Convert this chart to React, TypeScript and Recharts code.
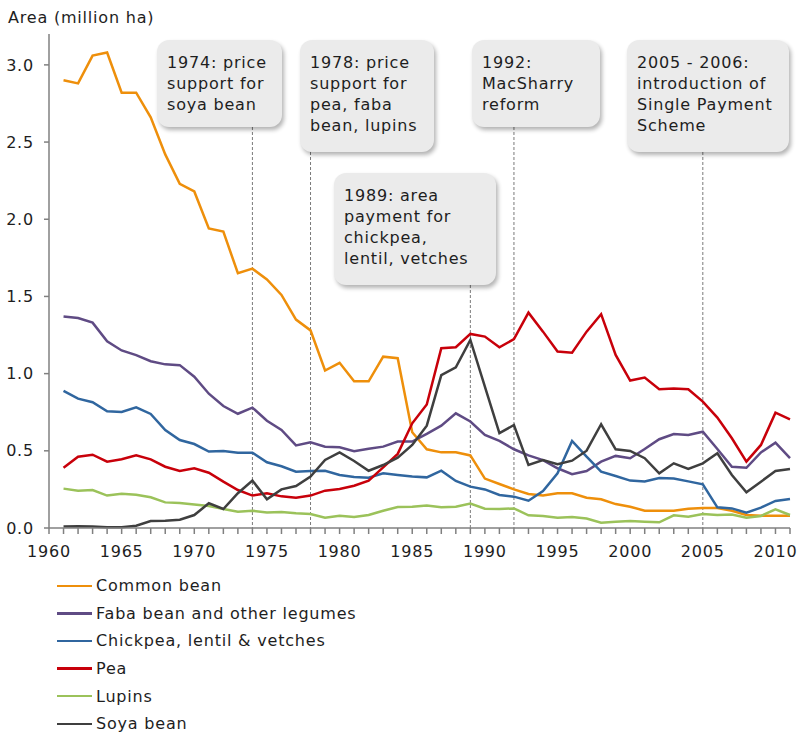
import { LineChart, Line, XAxis, YAxis, ReferenceLine, Legend } from "recharts";

const years = [
  1961, 1962, 1963, 1964, 1965, 1966, 1967, 1968, 1969, 1970,
  1971, 1972, 1973, 1974, 1975, 1976, 1977, 1978, 1979, 1980,
  1981, 1982, 1983, 1984, 1985, 1986, 1987, 1988, 1989, 1990,
  1991, 1992, 1993, 1994, 1995, 1996, 1997, 1998, 1999, 2000,
  2001, 2002, 2003, 2004, 2005, 2006, 2007, 2008, 2009, 2010,
  2011,
];

const commonBean = [
  2.9, 2.88, 3.06, 3.08, 2.82, 2.82, 2.66, 2.42, 2.23, 2.18,
  1.94, 1.92, 1.65, 1.68, 1.61, 1.51, 1.35, 1.28, 1.02, 1.07,
  0.95, 0.95, 1.11, 1.1, 0.62, 0.51, 0.49, 0.49, 0.47, 0.32,
  0.285, 0.25, 0.22, 0.21, 0.225, 0.225, 0.196, 0.186, 0.155, 0.138,
  0.112, 0.112, 0.112, 0.125, 0.13, 0.13, 0.112, 0.084, 0.08, 0.08,
  0.08,
];
const fabaBean = [
  1.37, 1.36, 1.33, 1.21, 1.15, 1.12, 1.08, 1.06, 1.055, 0.98,
  0.87, 0.79, 0.74, 0.78, 0.695, 0.635, 0.535, 0.555, 0.527, 0.523,
  0.497, 0.514, 0.527, 0.56, 0.56, 0.61, 0.663, 0.743, 0.69, 0.603,
  0.564, 0.51, 0.47, 0.44, 0.387, 0.348, 0.369, 0.43, 0.467, 0.452,
  0.512, 0.575, 0.609, 0.603, 0.624, 0.512, 0.397, 0.39, 0.49, 0.553,
  0.452,
];
const chickpea = [
  0.888, 0.838, 0.815, 0.756, 0.752, 0.782, 0.739, 0.635, 0.57, 0.544,
  0.495, 0.499, 0.488, 0.488, 0.426, 0.4, 0.365, 0.369, 0.371, 0.343,
  0.33, 0.326, 0.354, 0.343, 0.333, 0.328, 0.371, 0.305, 0.268, 0.25,
  0.214, 0.203, 0.177, 0.24, 0.354, 0.564, 0.462, 0.365, 0.337, 0.307,
  0.302, 0.324, 0.32, 0.302, 0.283, 0.134, 0.127, 0.099, 0.132, 0.175,
  0.188,
];
const pea = [
  0.39, 0.462, 0.475, 0.43, 0.445, 0.471, 0.445, 0.397, 0.369, 0.387,
  0.358, 0.3, 0.246, 0.21, 0.225, 0.205, 0.196, 0.21, 0.242, 0.253,
  0.274, 0.307, 0.393, 0.48, 0.678, 0.8, 1.165, 1.171, 1.257, 1.24,
  1.171, 1.223, 1.395, 1.272, 1.143, 1.136, 1.272, 1.385, 1.121, 0.955,
  0.974, 0.899, 0.903, 0.899, 0.819, 0.715, 0.581, 0.43, 0.538, 0.747,
  0.704,
];
const lupins = [
  0.255, 0.242, 0.246, 0.21, 0.222, 0.216, 0.199, 0.166, 0.162, 0.153,
  0.143, 0.123, 0.106, 0.112, 0.101, 0.104, 0.095, 0.091, 0.067, 0.08,
  0.071, 0.084, 0.112, 0.136, 0.138, 0.145, 0.134, 0.138, 0.158, 0.125,
  0.123, 0.127, 0.082, 0.078, 0.067, 0.071, 0.062, 0.034, 0.041, 0.045,
  0.041, 0.037, 0.082, 0.073, 0.091, 0.084, 0.087, 0.067, 0.078, 0.121,
  0.084,
];
const soyaBean = [
  0.01, 0.012, 0.01, 0.005, 0.005, 0.015, 0.045, 0.047, 0.054, 0.084,
  0.16, 0.123, 0.225, 0.307, 0.186, 0.25, 0.272, 0.333, 0.441, 0.49,
  0.434, 0.371, 0.408, 0.456, 0.538, 0.663, 0.99, 1.04, 1.218, 0.916,
  0.614, 0.667, 0.408, 0.44, 0.413, 0.436, 0.501, 0.672, 0.51, 0.499,
  0.452, 0.354, 0.419, 0.382, 0.419, 0.484, 0.343, 0.231, 0.3, 0.369,
  0.382,
];

const yTicks = [0, 0.5, 1, 1.5, 2, 2.5, 3];
const xLabelYears = [1960, 1965, 1970, 1975, 1980, 1985, 1990, 1995, 2000, 2005, 2010];

const annotations = [
  { year: 1974, lines: ["1974: price", "support for", "soya bean"] },
  { year: 1978, lines: ["1978: price", "support for", "pea, faba", "bean, lupins"] },
  { year: 1989, lines: ["1989: area", "payment for", "chickpea,", "lentil, vetches"] },
  { year: 1992, lines: ["1992:", "MacSharry", "reform"] },
  { year: 2005, lines: ["2005 - 2006:", "introduction of", "Single Payment", "Scheme"] },
];

const SERIES = [
  { key: "commonBean", name: "Common bean", color: "#ee8f0b" },
  { key: "fabaBean", name: "Faba bean and other legumes", color: "#5f4b84" },
  { key: "chickpea", name: "Chickpea, lentil & vetches", color: "#30669f" },
  { key: "pea", name: "Pea", color: "#c8000a" },
  { key: "lupins", name: "Lupins", color: "#9bc25a" },
  { key: "soyaBean", name: "Soya bean", color: "#3f3f3f" },
];

const data = years.map((year, i) => ({
  year,
  commonBean: commonBean[i],
  fabaBean: fabaBean[i],
  chickpea: chickpea[i],
  pea: pea[i],
  lupins: lupins[i],
  soyaBean: soyaBean[i],
}));

// layout
const W = 798;
const H = 734;
const TOP = 34;
const PLOT_BOTTOM = 528;
const Y_MAX = 3.2;
const FONT = "'DejaVu Sans', Verdana, sans-serif";
const TEXT = "#1e1e1e";
const AXIS = "#808080";
const minorTicks = Array.from({ length: 52 }, (_, i) => 1960 + i);

// annotation boxes (pixels)
const boxes = [
  { left: 157, top: 40, width: 125, height: 87 },
  { left: 300, top: 40, width: 134, height: 112 },
  { left: 334, top: 173, width: 162, height: 112 },
  { left: 472, top: 40, width: 128, height: 87 },
  { left: 627, top: 40, width: 162, height: 112 },
];

const pxToValue = (py: number) => ((PLOT_BOTTOM - py) / (PLOT_BOTTOM - TOP)) * Y_MAX;

const textStyle = { fontFamily: FONT, fontSize: 16, letterSpacing: 0.8, fill: TEXT };

function LegendBox() {
  return (
    <div style={{ height: 176, paddingLeft: 57, fontFamily: FONT, fontSize: 16, letterSpacing: 0.8, color: TEXT }}>
      {SERIES.map((s) => (
        <div key={s.key} style={{ display: "flex", alignItems: "center", height: 27.6 }}>
          <span style={{ width: 35, height: 2.5, background: s.color, display: "inline-block" }} />
          <span style={{ marginLeft: 4 }}>{s.name}</span>
        </div>
      ))}
    </div>
  );
}

export default function App() {
  return (
    <div style={{ position: "absolute", left: 0, top: 0, width: W, height: H, background: "#fff" }}>
      <div style={{ position: "absolute", left: 8, top: 8, fontFamily: FONT, fontSize: 16, letterSpacing: 0.8, color: TEXT }}>
        Area (million ha)
      </div>
      <LineChart width={W} height={H} data={data} margin={{ top: TOP, right: 8, bottom: 0, left: 0 }}>
        <XAxis
          dataKey="year"
          type="number"
          domain={[1960, 2011]}
          ticks={minorTicks}
          interval={0}
          height={30}
          tickSize={6}
          tickMargin={12}
          tickFormatter={(v: number) => (xLabelYears.includes(v) ? String(v) : "")}
          axisLine={{ stroke: AXIS, strokeWidth: 1.5 }}
          tickLine={{ stroke: AXIS, strokeWidth: 1.5 }}
          tick={textStyle}
        />
        <YAxis
          domain={[0, Y_MAX]}
          ticks={yTicks}
          width={49}
          tickSize={5}
          tickMargin={10}
          tickFormatter={(v: number) => v.toFixed(1)}
          axisLine={{ stroke: AXIS, strokeWidth: 1.5 }}
          tickLine={{ stroke: AXIS, strokeWidth: 1.5 }}
          tick={textStyle}
        />
        {annotations.map((a, i) => (
          <ReferenceLine
            key={a.year}
            segment={[
              { x: a.year, y: pxToValue(boxes[i].top + boxes[i].height) },
              { x: a.year, y: 0 },
            ]}
            stroke="#7a7a7a"
            strokeDasharray="3 2"
            strokeWidth={1}
          />
        ))}
        {SERIES.map((s) => (
          <Line
            key={s.key}
            dataKey={s.key}
            name={s.name}
            stroke={s.color}
            strokeWidth={2.5}
            dot={false}
            isAnimationActive={false}
          />
        ))}
        <Legend
          layout="vertical"
          align="center"
          verticalAlign="bottom"
          content={() => <LegendBox />}
          wrapperStyle={{ left: 0, top: 572, bottom: "auto", width: 500 }}
        />
      </LineChart>
      {annotations.map((a, i) => (
        <div
          key={a.year}
          style={{
            position: "absolute",
            left: boxes[i].left,
            top: boxes[i].top,
            width: boxes[i].width,
            height: boxes[i].height,
            boxSizing: "border-box",
            padding: "12px 0 0 10px",
            background: "#ebebeb",
            borderRadius: 12,
            boxShadow: "2px 3px 4px rgba(0,0,0,0.3)",
            fontFamily: FONT,
            fontSize: 16,
            letterSpacing: 0.8,
            lineHeight: "21px",
            color: TEXT,
            whiteSpace: "nowrap",
          }}
        >
          {a.lines.map((l) => (
            <div key={l}>{l}</div>
          ))}
        </div>
      ))}
    </div>
  );
}
